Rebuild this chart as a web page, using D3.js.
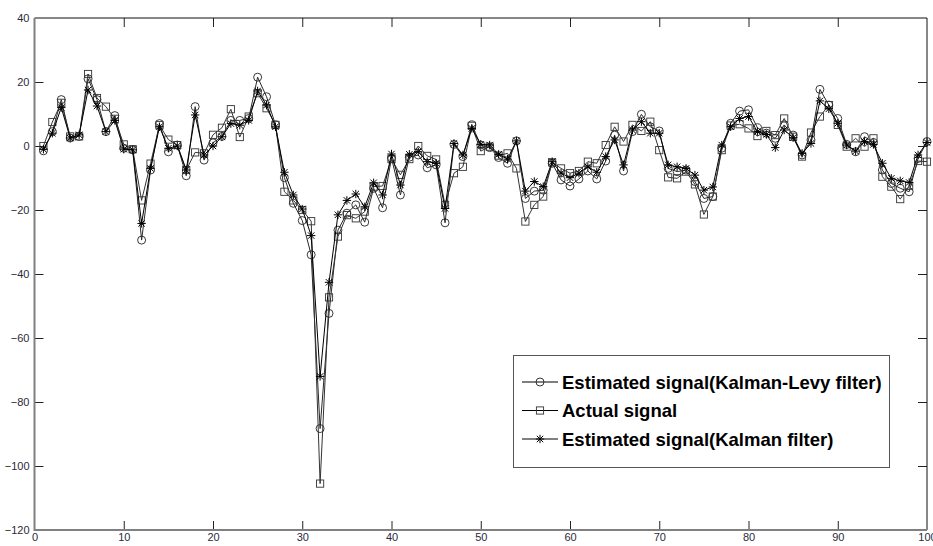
<!DOCTYPE html>
<html>
<head>
<meta charset="utf-8">
<script src="https://cdn.jsdelivr.net/npm/d3@7"></script>
<style>
  html, body { margin: 0; padding: 0; background: #fff; }
  svg { display: block; font-family: "Liberation Sans", Arial, sans-serif; }
</style>
</head>
<body>
<svg id="chart" width="933" height="546"></svg>
<script>
// Sample index (time steps 1..100)
const steps = d3.range(1, 101);

// Estimated signal, Kalman-Levy filter
const kalmanLevy = [
  -1.5, 4.5, 14.5, 2.5, 3, 21, 14.5, 4.5, 9.5, -0.7,
  -1.2, -29.4, -7.5, 7, -1.8, 0.3, -9.3, 12.3, -4.4, 1,
  3, 8, 8, 8.6, 21.5, 15.4, 6.6, -9.9, -17.9, -23.3,
  -34, -88.3, -52.3, -26.3, -21, -18.4, -23.8, -13.2, -19.3, -3.8,
  -15.3, -3.5, -2.8, -6.8, -5.9, -24, 0.5, -3.3, 6.6, 0.3,
  -0.5, -3.6, -5.4, 1.6, -16.4, -14.1, -13.8, -5.4, -10.6, -12.5,
  -10.3, -7.8, -10.3, -4.7, 3.4, -7.8, 4.5, 9.9, 6, 4.7,
  -7, -8, -7.5, -11.1, -16.4, -15.8, -0.7, 7.1, 10.9, 11.3,
  5.7, 4, 2.4, 6.6, 3.4, -2.8, 1.9, 17.7, 12.8, 8.6,
  0.5, -1.8, 2.9, 1.1, -7.5, -11.7, -13.2, -14.3, -3.9, 1.4
];

// Actual signal
const actual = [
  0, 7.5, 13.5, 3, 3, 22.5, 15, 12.3, 8.5, 0.5,
  -1, -17, -5.5, 6.5, 2, 0.3, -7.5, -2, -2.3, 3.5,
  5.7, 11.5, 2.8, 9.2, 16.5, 11.8, 6.6, -14.3, -17, -20,
  -23.5, -105.5, -47.3, -28.3, -21.6, -22.6, -20.5, -12.7, -12.5, -4.1,
  -9, -4.1, 0, -3.1, -4.2, -18.4, -8.5, -6.5, 6.3, -1.6,
  -0.2, -3, -2.3, -7, -23.6, -18.4, -15.8, -5.1, -7, -8.5,
  -7.8, -4.9, -5.4, 0.3, 6, 1.4, 6.6, 4.7, 7.6, -1.3,
  -9.8, -10.1, -8, -12, -21.4, -15.8, -1.3, 6.4, 6.8, 5.5,
  3.1, 4.7, 3.4, 8.6, 2.9, -3.3, 4.2, 9.2, 12.8, 6.6,
  -0.2, 2.4, -0.2, 2.4, -9.6, -12.7, -16.6, -12.5, -4.7, -4.9
];

// Estimated signal, Kalman filter
const kalman = [
  -1, 4, 12, 2.5, 3.5, 17.5, 12.5, 4.5, 8, -1,
  -1.2, -24.2, -7, 6, -0.7, 0, -7.5, 9.7, -2.8, 0,
  2.9, 7, 6.5, 8, 17.2, 12.8, 6, -8.2, -15.3, -19.7,
  -28, -72, -42.6, -21.5, -17, -15, -19, -11.5, -15.3, -2.5,
  -12.2, -2.6, -1.8, -4.9, -5.4, -19.5, 0.8, -2.8, 5.5, 0.5,
  0.3, -2.6, -4.1, 1.6, -14.1, -11.1, -12.7, -4.9, -8.5, -9.9,
  -8.5, -6.5, -8.2, -3.3, 1.9, -5.9, 5, 7.6, 4, 4,
  -5.9, -6.5, -7, -9.1, -13.8, -12.8, 0.3, 6, 8.6, 9.2,
  4.5, 3.6, -0.5, 5, 2.6, -2.3, 0.8, 14.1, 11.6, 7.1,
  0.3, -1.6, 1.4, 0.5, -5.4, -10.1, -10.9, -11.4, -2.8, 1.1
];

const xTicks = [0, 10, 20, 30, 40, 50, 60, 70, 80, 90, 100];
const yTicks = [-120, -100, -80, -60, -40, -20, 0, 20, 40];

const seriesNames = [
  "Estimated signal(Kalman-Levy filter)",
  "Actual signal",
  "Estimated signal(Kalman filter)"
];
const seriesMarkers = ["circle", "square", "star"];
const seriesValues = [kalmanLevy, actual, kalman];

const svg = d3.select("#chart");
const plotL = 34.5, plotR = 927, plotT = 18, plotB = 530;

const x = d3.scaleLinear().domain([0, 100]).range([plotL, plotR]);
const y = d3.scaleLinear().domain([-120, 40]).range([plotB, plotT]);

svg.append("rect").attr("width", 933).attr("height", 546).attr("fill", "#fff");

// Axes with inward ticks on all four sides
const tickLen = 9;
const gB = svg.append("g").attr("transform", `translate(0,${plotB})`)
  .call(d3.axisBottom(x).tickValues(xTicks).tickSizeInner(-tickLen).tickSizeOuter(0).tickPadding(3));
const gT = svg.append("g").attr("transform", `translate(0,${plotT})`)
  .call(d3.axisTop(x).tickValues(xTicks).tickSizeInner(-tickLen).tickSizeOuter(0).tickFormat(""));
const gL = svg.append("g").attr("transform", `translate(${plotL},0)`)
  .call(d3.axisLeft(y).tickValues(yTicks).tickSizeInner(-tickLen).tickSizeOuter(0).tickPadding(5));
const gR = svg.append("g").attr("transform", `translate(${plotR},0)`)
  .call(d3.axisRight(y).tickValues(yTicks).tickSizeInner(-tickLen).tickSizeOuter(0).tickFormat(""));

[gB, gT, gL, gR].forEach(g => {
  g.select(".domain").remove();
  g.selectAll(".tick line").attr("stroke", "#222").attr("stroke-width", 1);
  g.selectAll(".tick text")
    .attr("fill", "#2a2a3a")
    .style("font-size", "11px")
    .style("font-family", "'Liberation Sans', Arial, sans-serif");
});
// end ticks would sit on the frame itself
[gB, gT].forEach(g => g.selectAll(".tick line").filter(d => d === 0 || d === 100).remove());
[gL, gR].forEach(g => g.selectAll(".tick line").filter(d => d === -120 || d === 40).remove());

// Frame
svg.append("line").attr("x1", plotL).attr("x2", plotR).attr("y1", plotT).attr("y2", plotT)
  .attr("stroke", "#111").attr("stroke-width", 1);
svg.append("line").attr("x1", plotR).attr("x2", plotR).attr("y1", plotT).attr("y2", plotB)
  .attr("stroke", "#111").attr("stroke-width", 1);
svg.append("line").attr("x1", plotL).attr("x2", plotL).attr("y1", plotT).attr("y2", plotB + 1)
  .attr("stroke", "#808080").attr("stroke-width", 2);
svg.append("line").attr("x1", plotL).attr("x2", plotR).attr("y1", plotB).attr("y2", plotB)
  .attr("stroke", "#808080").attr("stroke-width", 2);

// Marker drawing
function drawMarker(g, type, cx, cy) {
  if (type === "circle") {
    g.append("circle").attr("cx", cx).attr("cy", cy).attr("r", 4)
      .attr("fill", "none").attr("stroke", "#222").attr("stroke-width", 0.9);
  } else if (type === "square") {
    g.append("rect").attr("x", cx - 3.6).attr("y", cy - 3.6).attr("width", 7.2).attr("height", 7.2)
      .attr("fill", "none").attr("stroke", "#333").attr("stroke-width", 0.9);
  } else {
    const a = 4.2, b = 3.2;
    const p = `M${cx - a},${cy}L${cx + a},${cy}M${cx},${cy - a}L${cx},${cy + a}` +
              `M${cx - b},${cy - b}L${cx + b},${cy + b}M${cx - b},${cy + b}L${cx + b},${cy - b}`;
    g.append("path").attr("d", p).attr("fill", "none").attr("stroke", "#000").attr("stroke-width", 1);
  }
}

const line = d3.line().x(d => x(d[0])).y(d => y(d[1]));
const lineColors = ["#2a2a2a", "#333", "#000"];

seriesValues.forEach((vals, si) => {
  const pts = steps.map((s, i) => [s, vals[i]]);
  const g = svg.append("g");
  g.append("path").datum(pts).attr("d", line)
    .attr("fill", "none").attr("stroke", lineColors[si]).attr("stroke-width", 1);
  pts.forEach(p => drawMarker(g, seriesMarkers[si], x(p[0]), y(p[1])));
});

// Legend
const lg = svg.append("g");
lg.append("rect").attr("x", 513.5).attr("y", 355.5).attr("width", 376).attr("height", 112)
  .attr("fill", "#fff").attr("stroke", "#555").attr("stroke-width", 1);
const rowY = [382, 410.5, 439];
seriesNames.forEach((name, i) => {
  lg.append("line").attr("x1", 522).attr("x2", 558).attr("y1", rowY[i]).attr("y2", rowY[i])
    .attr("stroke", "#000").attr("stroke-width", 1);
  drawMarker(lg, seriesMarkers[i], 540, rowY[i]);
  lg.append("text").attr("x", 562).attr("y", rowY[i]).attr("dy", "0.36em")
    .attr("fill", "#000")
    .style("font-size", "18.5px").style("font-weight", "bold")
    .text(name);
});
</script>
</body>
</html>
